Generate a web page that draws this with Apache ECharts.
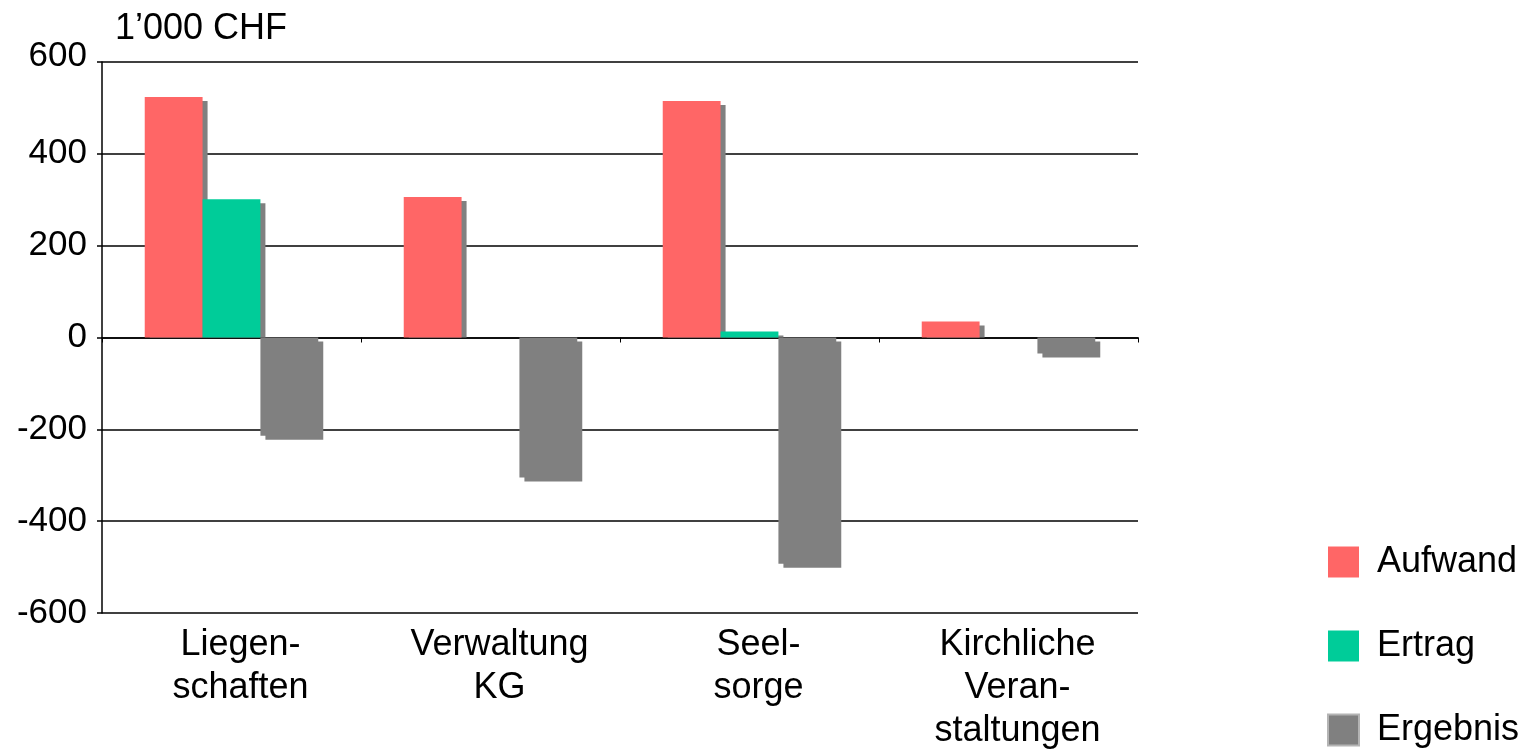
<!DOCTYPE html>
<html>
<head>
<meta charset="utf-8">
<script src="https://cdn.jsdelivr.net/npm/echarts@6/dist/echarts.min.js"></script>
<style>
html,body{margin:0;padding:0;background:#fff;}
#chart{width:1526px;height:751px;}
</style>
</head>
<body>
<div id="chart"></div>
<script>
const categories = ['Liegen-\nschaften', 'Verwaltung\nKG', 'Seel-\nsorge', 'Kirchliche\nVeran-\nstaltungen'];
const aufwand = [524, 306, 515, 35];
const ertrag = [301, 0, 13, 0];
const ergebnis = [-214, -305, -493, -35];
const yTicks = { min: -600, max: 600, interval: 200 };
const unitLabel = '1\u2019000 CHF';

const FONT = 'Liberation Sans, Arial, Helvetica, sans-serif';
const SHADOW = '#808080';
const chart = echarts.init(document.getElementById('chart'));

const seriesDefs = [
  { name: 'Aufwand', values: aufwand, color: '#FF6666' },
  { name: 'Ertrag', values: ertrag, color: '#00CC99' },
  { name: 'Ergebnis', values: ergebnis, color: '#808080' }
];
const nSeries = seriesDefs.length;
const catGap = 0.33;

function makeRender(sIdx) {
  return function (params, api) {
    const cat = api.value(0);
    const val = api.value(1);
    const base = api.coord([cat, 0]);
    const tip = api.coord([cat, val]);
    const band = api.size([1, 0])[0];
    const barW = band * (1 - catGap) / nSeries;
    const x0 = base[0] - (nSeries / 2) * barW + sIdx * barW;
    const color = api.visual('color');
    const children = [];
    const h = Math.abs(tip[1] - base[1]);
    if (h < 0.5) return { type: 'group', children: [] };
    const dx = 5, dy = 4;
    if (val > 0) {
      const sh = base[1] - (tip[1] + dy);
      if (sh > 0) {
        children.push({ type: 'rect', shape: { x: x0 + dx, y: tip[1] + dy, width: barW, height: sh }, style: { fill: SHADOW } });
      }
      children.push({ type: 'rect', shape: { x: x0, y: tip[1], width: barW, height: h }, style: { fill: color } });
    } else {
      children.push({ type: 'rect', shape: { x: x0 + dx, y: base[1] + dy, width: barW, height: h }, style: { fill: SHADOW } });
      children.push({ type: 'rect', shape: { x: x0, y: base[1], width: barW, height: h }, style: { fill: color } });
    }
    return { type: 'group', children: children };
  };
}

const series = seriesDefs.map(function (d, i) {
  return {
    name: d.name,
    type: 'custom',
    xAxisIndex: 0,
    itemStyle: { color: d.color },
    renderItem: makeRender(i),
    encode: { x: 0, y: 1 },
    data: d.values.map(function (v, k) { return [k, v]; }),
    silent: true,
    animation: false
  };
});

chart.setOption({
  animation: false,
  title: {
    text: unitLabel,
    left: 110,
    top: 6,
    textStyle: { fontFamily: FONT, fontSize: 36, fontWeight: 'normal', color: '#000', lineHeight: 36 }
  },
  grid: { left: 102, right: 388, top: 62, bottom: 138, containLabel: false, outerBoundsMode: 'none' },
  legend: {
    orient: 'vertical',
    left: 1327,
    top: 544,
    padding: 0,
    itemWidth: 31,
    itemHeight: 31,
    itemGap: 48,
    icon: 'rect',
    selectedMode: false,
    textStyle: { fontFamily: FONT, fontSize: 36, color: '#000', padding: [0, 0, 0, 13], lineHeight: 31 },
    data: [
      { name: 'Aufwand' },
      { name: 'Ertrag' },
      { name: 'Ergebnis', itemStyle: { borderColor: '#b4b4b4', borderWidth: 2 } }
    ]
  },
  xAxis: [
    {
      type: 'category',
      data: categories,
      position: 'bottom',
      axisLine: { show: false, onZero: false },
      axisTick: { show: false },
      axisLabel: {
        fontFamily: FONT, fontSize: 36, color: '#000', margin: 11, lineHeight: 43,
        interval: 0, align: 'center', padding: [0, 0, 0, 18]
      },
      splitLine: { show: false }
    },
    {
      type: 'category',
      data: categories,
      position: 'bottom',
      axisLine: { show: true, onZero: true, lineStyle: { color: '#000', width: 1.5 } },
      axisTick: { show: true, length: 5, lineStyle: { color: '#000', width: 1 } },
      axisLabel: { show: false },
      splitLine: { show: false }
    }
  ],
  yAxis: {
    type: 'value',
    min: yTicks.min,
    max: yTicks.max,
    interval: yTicks.interval,
    axisLine: { show: true, lineStyle: { color: '#000', width: 1.5 } },
    axisTick: { show: true, length: 5, lineStyle: { color: '#000', width: 1.5 } },
    axisLabel: {
      fontFamily: FONT, fontSize: 35, color: '#000', margin: 15,
      formatter: function (v) { return v === yTicks.max ? '{top|' + v + '}' : String(v); },
      rich: { top: { fontFamily: FONT, fontSize: 35, color: '#000', padding: [0, 0, 12, 0] } }
    },
    splitLine: { show: true, lineStyle: { color: '#000', width: 1.5 } }
  },
  series: series
});
</script>
</body>
</html>
